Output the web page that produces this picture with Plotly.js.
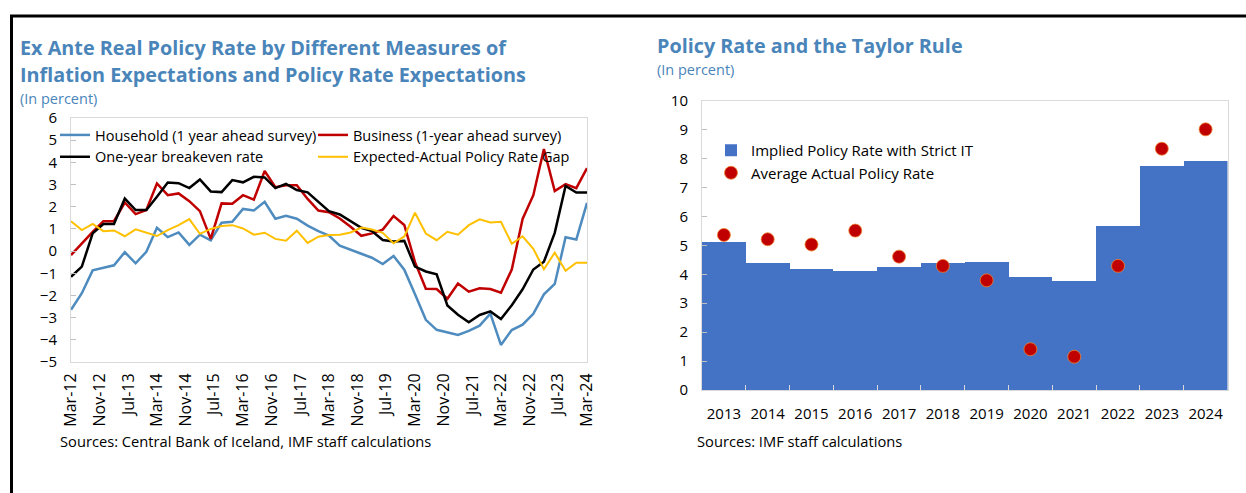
<!DOCTYPE html>
<html><head><meta charset="utf-8">
<script src="https://cdn.plot.ly/plotly-3.0.1.min.js"></script>
<style>html,body{margin:0;padding:0;background:#fff}#chart{width:1246px;height:493px}</style>
</head><body><div id="chart"></div><script>
// ---------- Left chart data: quarterly, Mar-2012 .. Mar-2024 ----------
const household = [-2.65,-1.9,-0.87,-0.74,-0.64,-0.05,-0.55,-0.03,1.05,0.63,0.84,0.28,0.74,0.48,1.28,1.32,1.9,1.83,2.22,1.46,1.59,1.46,1.15,0.9,0.7,0.25,0.05,-0.12,-0.3,-0.58,-0.22,-0.84,-1.95,-3.1,-3.55,-3.68,-3.78,-3.6,-3.36,-2.82,-4.23,-3.56,-3.32,-2.83,-1.95,-1.48,0.62,0.52,2.17];
const business = [-0.18,0.35,0.87,1.35,1.35,2.19,1.67,1.85,3.05,2.52,2.6,2.25,1.8,0.55,2.15,2.13,2.52,2.32,3.61,2.88,2.97,2.97,2.35,1.83,1.75,1.47,1.1,0.69,0.8,0.97,1.58,1.18,-0.5,-1.7,-1.71,-2.15,-1.46,-1.83,-1.68,-1.71,-1.88,-0.83,1.45,2.52,4.6,2.71,3.02,2.84,3.74];
const breakeven = [-1.16,-0.7,0.8,1.22,1.22,2.37,1.85,1.85,2.45,3.09,3.06,2.84,3.23,2.69,2.66,3.2,3.1,3.35,3.32,2.84,3.03,2.75,2.65,2.2,1.8,1.65,1.35,1.05,0.9,0.5,0.43,0.46,-0.7,-0.92,-1.05,-2.45,-2.87,-3.21,-2.88,-2.72,-3.06,-2.44,-1.72,-0.83,-0.48,0.82,2.94,2.64,2.64];
const rateGap = [1.35,0.95,1.23,0.9,0.93,0.67,0.98,0.84,0.68,0.95,1.17,1.44,0.78,1.0,1.13,1.17,1.02,0.74,0.83,0.55,0.47,0.92,0.37,0.65,0.72,0.74,0.84,1.06,0.97,0.82,0.35,0.66,1.73,0.79,0.49,0.87,0.74,1.17,1.43,1.29,1.32,0.33,0.67,0.1,-0.82,-0.07,-0.89,-0.52,-0.52];
const tickLabels = ['Mar-12','Nov-12','Jul-13','Mar-14','Nov-14','Jul-15','Mar-16','Nov-16','Jul-17','Mar-18','Nov-18','Jul-19','Mar-20','Nov-20','Jul-21','Mar-22','Nov-22','Jul-23','Mar-24'];

// ---------- Right chart data ----------
const years = ['2013','2014','2015','2016','2017','2018','2019','2020','2021','2022','2023','2024'];
const impliedRate = [5.1,4.38,4.18,4.12,4.25,4.4,4.43,3.89,3.77,5.66,7.76,7.93];
const actualRate = [5.36,5.21,5.03,5.51,4.61,4.29,3.79,1.41,1.15,4.29,8.34,9.01];

// quarterly dates
const quarters = household.map((_, i) => {
  const m = 2 + 3 * i;
  const y = 2012 + Math.floor(m / 12);
  const mm = (m % 12) + 1;
  return `${y}-${String(mm).padStart(2,'0')}-01`;
});
const MON = {Jan:1,Feb:2,Mar:3,Apr:4,May:5,Jun:6,Jul:7,Aug:8,Sep:9,Oct:10,Nov:11,Dec:12};
const tickVals = tickLabels.map(l => { const [m, yy] = l.split('-'); return `20${yy}-${String(MON[m]).padStart(2,'0')}-01`; });

const W = 1246, H = 493;
const px = x => x / W, py = y => 1 - y / H;

const FONT = 'Open Sans, Noto Sans, sans-serif';
const TITLE_COLOR = '#4A85BA';
const GRID = '#D9D9D9';

const lx0 = 71, lx1 = 587, ly0 = 118, ly1 = 362;
const rx0 = 702, rx1 = 1227.5, ry0 = 100.7, ry1 = 390;
const yDomL = [py(ly1), py(ly0)];
const zeroPos = yDomL[0] + (5 / 11) * (yDomL[1] - yDomL[0]);

const traces = [
  {x: quarters, y: household, type: 'scatter', mode: 'lines', name: 'Household (1 year ahead survey)', line: {color: '#4E8BBE', width: 2.5}, xaxis: 'x', yaxis: 'y', legend: 'legend'},
  {x: quarters, y: business, type: 'scatter', mode: 'lines', name: 'Business (1-year ahead survey)', line: {color: '#C00000', width: 2.5}, xaxis: 'x', yaxis: 'y', legend: 'legend2'},
  {x: quarters, y: breakeven, type: 'scatter', mode: 'lines', name: 'One-year breakeven rate', line: {color: '#000000', width: 2.5}, xaxis: 'x', yaxis: 'y', legend: 'legend'},
  {x: quarters, y: rateGap, type: 'scatter', mode: 'lines', name: 'Expected-Actual Policy Rate Gap', line: {color: '#FFC000', width: 2}, xaxis: 'x', yaxis: 'y', legend: 'legend2'},
  {x: years, y: impliedRate, type: 'bar', name: 'Implied Policy Rate with Strict IT', marker: {color: '#4472C4', line: {width: 0}}, xaxis: 'x3', yaxis: 'y3', legend: 'legend3'},
  {x: years, y: actualRate, type: 'scatter', mode: 'markers', name: 'Average Actual Policy Rate', marker: {color: '#C00000', size: 13, line: {color: '#F08030', width: 0.8}}, xaxis: 'x3', yaxis: 'y3', legend: 'legend3'}
];

const tickFont = {family: FONT, size: 15, color: '#000'};
const legFont = {family: FONT, size: 14.5, color: '#000'};

const layout = {
  width: W, height: H,
  margin: {l: 0, r: 0, t: 0, b: 0},
  paper_bgcolor: '#fff', plot_bgcolor: '#fff',
  font: {family: FONT, size: 14, color: '#000'},
  showlegend: true,
  bargap: 0,
  xaxis: {
    type: 'date', range: [quarters[0], quarters[quarters.length - 1]],
    domain: [px(lx0), px(lx1)], anchor: 'y',
    showline: true, linecolor: GRID, linewidth: 1, mirror: true,
    ticks: '', tickvals: tickVals, ticktext: tickLabels, tickangle: -90,
    tickfont: {family: FONT, size: 16, color: '#000'}, showgrid: false, zeroline: false, ticklabelstandoff: 4
  },
  xaxis2: {
    type: 'date', range: [quarters[0], quarters[quarters.length - 1]],
    domain: [px(lx0), px(lx1)], overlaying: 'x', anchor: 'free', position: zeroPos,
    showline: true, linecolor: '#BFBFBF', linewidth: 1,
    ticks: 'inside', ticklen: 5, tickcolor: '#BFBFBF', tickvals: tickVals,
    showticklabels: false, showgrid: false, zeroline: false
  },
  yaxis: {
    range: [-5, 6], domain: yDomL, anchor: 'x', dtick: 1, tick0: 0,
    showline: true, linecolor: GRID, linewidth: 1, mirror: true,
    ticks: 'inside', ticklen: 5, tickcolor: '#BFBFBF',
    tickfont: tickFont, showgrid: false, zeroline: false, ticklabelstandoff: 10
  },
  xaxis3: {
    type: 'category', range: [-0.5, years.length - 0.5], domain: [px(rx0), px(rx1)], anchor: 'y3',
    showline: true, linecolor: GRID, linewidth: 1, mirror: true,
    ticks: 'inside', tickson: 'boundaries', ticklen: 5, tickcolor: '#D9D9D9',
    tickfont: tickFont, showgrid: false, zeroline: false, ticklabelstandoff: 10
  },
  yaxis3: {
    range: [0, 10], domain: [py(ry1), py(ry0)], anchor: 'x3', dtick: 1,
    showline: true, linecolor: GRID, linewidth: 1, mirror: true,
    ticks: 'inside', ticklen: 5, tickcolor: '#BFBFBF',
    tickfont: tickFont, showgrid: false, zeroline: false, ticklabelstandoff: 10
  },
  legend: {x: px(55), y: py(119), xanchor: 'left', yanchor: 'top', bgcolor: 'rgba(0,0,0,0)', font: legFont, tracegroupgap: 0},
  legend2: {x: px(313), y: py(119), xanchor: 'left', yanchor: 'top', bgcolor: 'rgba(0,0,0,0)', font: legFont, tracegroupgap: 0},
  legend3: {x: px(711), y: py(134), xanchor: 'left', yanchor: 'top', bgcolor: 'rgba(0,0,0,0)', font: {family: FONT, size: 15, color: '#000'}, tracegroupgap: 0},
  annotations: [
    {text: '<b>Ex Ante Real Policy Rate by Different Measures of</b>', x: px(18), y: py(47), xref: 'paper', yref: 'paper', xanchor: 'left', yanchor: 'middle', showarrow: false, font: {family: FONT, size: 19.8, color: TITLE_COLOR}},
    {text: '<b>Inflation Expectations and Policy Rate Expectations</b>', x: px(18), y: py(75), xref: 'paper', yref: 'paper', xanchor: 'left', yanchor: 'middle', showarrow: false, font: {family: FONT, size: 19.8, color: TITLE_COLOR}},
    {text: '(In percent)', x: px(18), y: py(99), xref: 'paper', yref: 'paper', xanchor: 'left', yanchor: 'middle', showarrow: false, font: {family: FONT, size: 14.5, color: TITLE_COLOR}},
    {text: '<b>Policy Rate and the Taylor Rule</b>', x: px(655), y: py(46), xref: 'paper', yref: 'paper', xanchor: 'left', yanchor: 'middle', showarrow: false, font: {family: FONT, size: 19.8, color: TITLE_COLOR}},
    {text: '(In percent)', x: px(655), y: py(70), xref: 'paper', yref: 'paper', xanchor: 'left', yanchor: 'middle', showarrow: false, font: {family: FONT, size: 14.5, color: TITLE_COLOR}},
    {text: 'Sources: Central Bank of Iceland, IMF staff calculations', x: px(58), y: py(441), xref: 'paper', yref: 'paper', xanchor: 'left', yanchor: 'middle', showarrow: false, font: {family: FONT, size: 14.7, color: '#000'}},
    {text: 'Sources: IMF staff calculations', x: px(695), y: py(441), xref: 'paper', yref: 'paper', xanchor: 'left', yanchor: 'middle', showarrow: false, font: {family: FONT, size: 14.7, color: '#000'}}
  ],
  shapes: [
    {type: 'line', xref: 'paper', yref: 'paper', x0: px(10), x1: 1, y0: py(16), y1: py(16), line: {color: '#000', width: 3}},
    {type: 'line', xref: 'paper', yref: 'paper', x0: px(11.5), x1: px(11.5), y0: py(16), y1: 0, line: {color: '#000', width: 3}}
  ]
};

Plotly.newPlot('chart', traces, layout, {staticPlot: true, displayModeBar: false});
</script></body></html>
